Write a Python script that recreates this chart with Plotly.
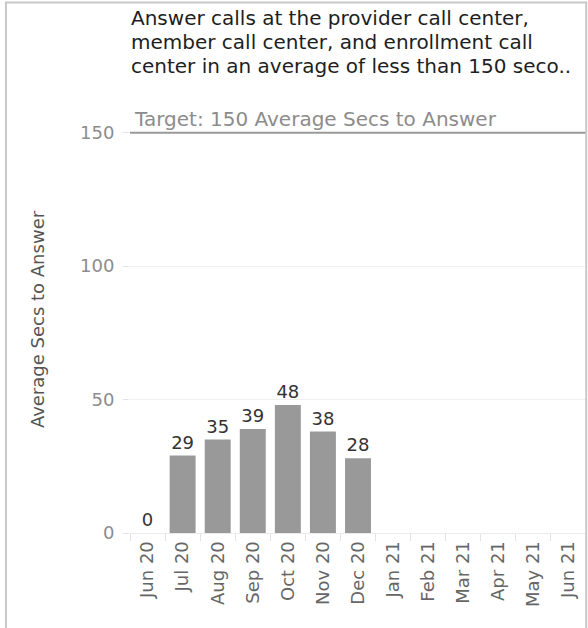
import plotly.graph_objects as go

# Monthly average seconds to answer
months = ['Jun 20', 'Jul 20', 'Aug 20', 'Sep 20', 'Oct 20', 'Nov 20', 'Dec 20',
          'Jan 21', 'Feb 21', 'Mar 21', 'Apr 21', 'May 21', 'Jun 21']
avg_secs = [0, 29, 35, 39, 48, 38, 28, None, None, None, None, None, None]
target = 150
y_ticks = [0, 50, 100, 150]

title_lines = ['Answer calls at the provider call center,',
               'member call center, and enrollment call',
               'center in an average of less than 150 seco..']

font_family = 'DejaVu Sans, Verdana, sans-serif'

bars = go.Bar(
    x=months, y=avg_secs,
    marker=dict(color='#999999', line=dict(width=0)),
    width=0.74,
    text=[str(v) if v is not None else '' for v in avg_secs],
    textposition='outside',
    textfont=dict(family=font_family, size=18, color='#333333'),
    cliponaxis=False,
    hoverinfo='x+y',
)

fig = go.Figure(data=[bars])

# Target reference line
fig.add_shape(type='line', xref='paper', yref='y', x0=0, x1=1, y0=target, y1=target,
              line=dict(color='#999999', width=2))

fig.add_annotation(text='Target: 150 Average Secs to Answer', xref='paper', yref='y',
                   x=0, y=target, xanchor='left', yanchor='bottom', xshift=2, yshift=0,
                   showarrow=False, font=dict(family=font_family, size=20, color='#8c8c8c'))

# Title, one annotation per line to control the line spacing
for i, line in enumerate(title_lines):
    fig.add_annotation(text=line, xref='paper', yref='paper', x=0, y=1,
                       xanchor='left', yanchor='top', align='left', valign='middle',
                       height=24, borderpad=0,
                       xshift=0, yshift=106 - 5 - 24 * i,
                       showarrow=False,
                       font=dict(family=font_family, size=20, color='#1e1e1e'))

# Sheet border (top, left, right)
fig.add_shape(type='path', xref='paper', yref='paper',
              path='M -0.272,-0.3 L -0.272,1.2425 L 1.0005,1.2425 L 1.0005,-0.3',
              line=dict(color='#c8c8c8', width=2))

fig.update_layout(
    width=588, height=628,
    margin=dict(l=130, r=2, t=106, b=95),
    paper_bgcolor='white', plot_bgcolor='white',
    showlegend=False,
    xaxis=dict(
        type='category', tickangle=-90,
        tickfont=dict(family=font_family, size=18, color='#666666'),
        ticks='outside', tickson='boundaries', ticklen=7, tickcolor='#e3e3e3',
        showline=True, linecolor='#ebebeb', linewidth=1,
        showgrid=False, range=[-0.5, 12.5],
    ),
    yaxis=dict(
        title=dict(text='Average Secs to Answer', standoff=30,
                   font=dict(family=font_family, size=18, color='#555555')),
        range=[0, 160], tickvals=y_ticks,
        tickfont=dict(family=font_family, size=18, color='#8c8c8c'),
        ticks='outside', ticklen=6, tickcolor='#e3e3e3', ticklabelstandoff=5,
        showgrid=True, gridcolor='#f0f0f0', zeroline=False,
        showline=False,
    ),
)

fig.write_html('out.html', config={'displayModeBar': False},
               post_script="document.body.style.margin='0';document.body.style.overflow='hidden';")
